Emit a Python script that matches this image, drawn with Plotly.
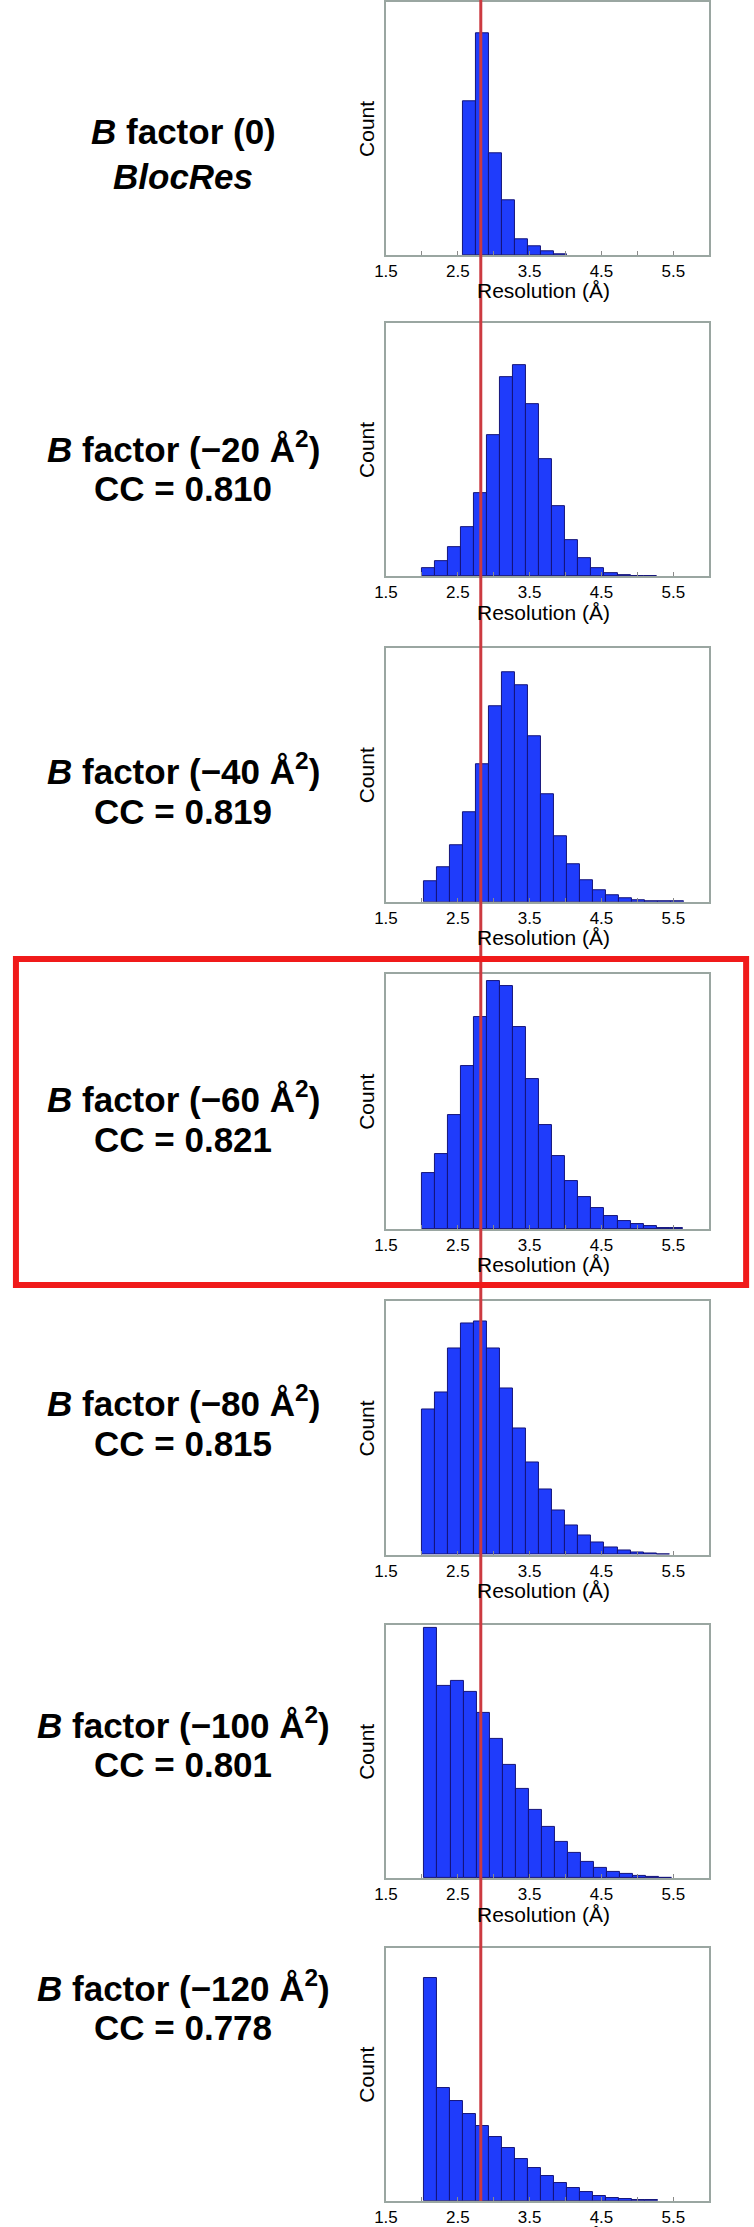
import plotly.graph_objects as go

# Local resolution histograms for each B-factor sharpening level.
# Counts are relative (percent of panel height) -- the y axis has no scale.
BIN_WIDTH = 0.1815
bin_start = [2.57, 2.0, 2.025, 2.0, 2.0, 2.035, 2.025]
counts = [
    [60.8, 87.7, 40.1, 21.8, 6.4, 3.3, 1.6, 0.4],
    [3.0, 5.9, 11.3, 19.2, 32.8, 55.9, 78.8, 83.4, 68.1, 46.4, 27.6, 14.2,
     7.0, 3.0, 1.1, 0.4, 0.1, 0.1],
    [8.3, 13.5, 22.4, 35.4, 54.4, 77.1, 90.6, 85.6, 65.3, 42.6, 25.8, 14.8,
     8.5, 4.6, 2.8, 1.5, 0.7, 0.3, 0.1, 0.1],
    [21.8, 29.2, 44.6, 63.9, 83.3, 97.1, 95.3, 79.4, 58.9, 40.9, 28.5, 18.7,
     12.6, 8.1, 5.1, 3.1, 1.8, 1.0, 0.5, 0.3],
    [57.4, 64.2, 81.4, 91.2, 92.1, 81.5, 65.7, 49.7, 36.3, 25.6, 17.3, 11.7,
     7.8, 4.7, 2.9, 1.6, 0.8, 0.4, 0.3],
    [98.7, 75.9, 77.7, 73.5, 65.4, 55.1, 44.9, 35.4, 26.9, 20.1, 14.2, 9.8,
     6.6, 4.2, 2.6, 1.6, 0.8, 0.4, 0.3],
    [88.2, 44.7, 39.5, 34.5, 29.7, 25.3, 20.8, 16.5, 12.9, 9.8, 7.1, 4.9,
     3.3, 2.0, 1.2, 0.7, 0.4, 0.3],
]

label_line1 = [
    "<i>B</i> factor (0)",
    "<i>B</i> factor (−20 Å<sup>2</sup>)",
    "<i>B</i> factor (−40 Å<sup>2</sup>)",
    "<i>B</i> factor (−60 Å<sup>2</sup>)",
    "<i>B</i> factor (−80 Å<sup>2</sup>)",
    "<i>B</i> factor (−100 Å<sup>2</sup>)",
    "<i>B</i> factor (−120 Å<sup>2</sup>)",
]
label_line2 = ["<i>BlocRes</i>", "CC = 0.810", "CC = 0.819", "CC = 0.821",
               "CC = 0.815", "CC = 0.801", "CC = 0.778"]

tick_vals = [1.5, 2.5, 3.5, 4.5, 5.5]
tick_text = ["1.5", "2.5", "3.5", "4.5", "5.5"]
ref_resolution = 2.82   # red reference line (Å)

# --- layout in pixels ---
W, H = 754, 2227
FONT = "Liberation Sans, Arial, sans-serif"
x_left, x_right = 380, 708.5
panel_top = [2.3, 324, 650, 976.7, 1305, 1629.3, 1953.3]
panel_bot = [255.7, 577.7, 904.3, 1232.3, 1559, 1883.3, 2206.7]
text_y1 = [132, 448, 771, 1100, 1405, 1728, 1991]
text_y2 = [177, 490, 814, 1143, 1447, 1769, 2033]
text_x = 174

def px(x):
    return x / W

def py(y):
    return 1 - y / H

fig = go.Figure()
annotations = []

for i, c in enumerate(counts):
    n = i + 1
    centers = [bin_start[i] + (k + 0.5) * BIN_WIDTH for k in range(len(c))]
    fig.add_trace(go.Bar(
        x=centers, y=c, width=BIN_WIDTH,
        marker=dict(color="#1f3cfb", line=dict(color="#14147a", width=1)),
        xaxis=f"x{n}", yaxis=f"y{n}", showlegend=False,
    ))

    frame = dict(showline=True, mirror=True, linecolor="#9aa6a1", linewidth=1.5,
                 showgrid=False, zeroline=False, fixedrange=True)
    fig.update_layout(**{
        f"xaxis{n}": dict(
            frame, domain=[px(x_left), px(x_right)], range=[1.5, 6.0],
            anchor=f"y{n}", tickmode="array", tickvals=tick_vals, ticktext=tick_text,
            ticks="inside", ticklen=4, tickcolor="#8a8a8a",
            tickfont=dict(family=FONT, size=17, color="black"),
            minor=dict(ticks="inside", dtick=0.5, tick0=1.5, ticklen=4, tickcolor="#8a8a8a"),
        ),
        f"yaxis{n}": dict(
            frame, domain=[py(panel_bot[i]), py(panel_top[i])], range=[0, 100],
            anchor=f"x{n}", showticklabels=False, ticks="",
        ),
    })

    # axis titles
    annotations.append(dict(
        text="Resolution (Å)", x=px(540), y=py(panel_bot[i] + 36),
        xref="paper", yref="paper", showarrow=False, xanchor="center", yanchor="middle",
        font=dict(family=FONT, size=21, color="black"),
    ))
    annotations.append(dict(
        text="Count", textangle=-90, x=px(360), y=py((panel_top[i] + panel_bot[i]) / 2),
        xref="paper", yref="paper", showarrow=False, xanchor="center", yanchor="middle",
        font=dict(family=FONT, size=21, color="black"),
    ))

    # condition labels on the left
    for txt, ty in [(label_line1[i], text_y1[i]), (label_line2[i], text_y2[i])]:
        annotations.append(dict(
            text=f"<b>{txt}</b>", x=px(text_x), y=py(ty),
            xref="paper", yref="paper", showarrow=False, xanchor="center", yanchor="middle",
            font=dict(family=FONT, size=35, color="black"),
        ))

shapes = [
    # reference resolution line running through all panels
    dict(type="line", xref="x", yref="paper", x0=ref_resolution, x1=ref_resolution,
         y0=py(2207), y1=1, line=dict(color="#cc3a40", width=3), layer="above"),
    # red frame around the best panel (B = -60)
    dict(type="rect", xref="paper", yref="paper",
         x0=px(4), x1=px(746), y0=py(1288.5), y1=py(961.5),
         line=dict(color="#f01a1a", width=6), layer="above"),
]

fig.update_layout(
    width=W, height=H, autosize=False,
    margin=dict(l=0, r=0, t=0, b=0),
    paper_bgcolor="white", plot_bgcolor="white",
    bargap=0, annotations=annotations, shapes=shapes,
    font=dict(family=FONT),
)

# drop the browser's default body margin so the figure sits at the page corner
fig.write_html("out.html", config={"displayModeBar": False},
               post_script="document.body.style.margin='0';")
